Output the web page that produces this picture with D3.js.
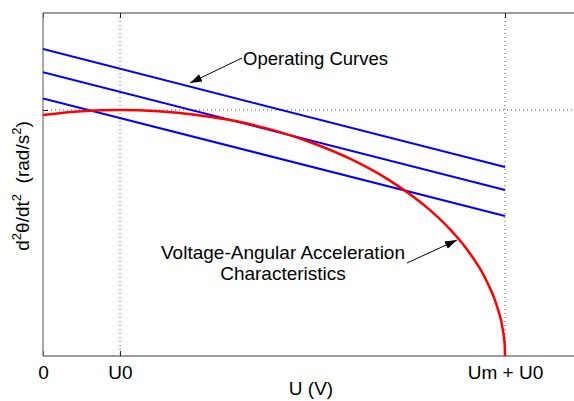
<!DOCTYPE html>
<html>
<head>
<meta charset="utf-8">
<script src="https://cdn.jsdelivr.net/npm/d3@7"></script>
<style>
  body { margin: 0; background: #fff; }
  svg { display: block; font-family: "Liberation Sans", Arial, sans-serif; }
</style>
</head>
<body>
<div id="chart"></div>
<script>
// x in units of U0 (U0 = 1, Um = 5), y relative to the peak acceleration
var xTickVals = [0, 1, 6];
var xTickLabels = ["0", "U0", "Um + U0"];
var yTickVals = [1];

// voltage / angular acceleration characteristic (red)
var charU = [0, 0.5, 1, 1.5, 2, 2.5, 3, 3.5, 4, 4.5, 5, 5.25, 5.5, 5.75, 5.9, 5.97, 5.995, 6];
var charA = [0.98, 0.995, 1.0, 0.995, 0.98, 0.955, 0.917, 0.866, 0.8, 0.714, 0.6, 0.527, 0.436, 0.312, 0.199, 0.11, 0.05, 0];

// operating curves (blue), start and end values
var opU = [0, 6];
var opStart = [1.248, 1.154, 1.047];
var opEnd = [0.768, 0.675, 0.569];

var W = 574, H = 401;
var mLeft = 43, mTop = 13, mBottom = 356;

var svg = d3.select("#chart").append("svg")
	.attr("width", W)
	.attr("height", H);

var x = d3.scaleLinear().domain([0, 7]).range([mLeft, mLeft + 7 * 77]);
var y = d3.scaleLinear().domain([0, 1.4]).range([mBottom, mBottom - 1.4 * 246]);

var defs = svg.append("defs");
defs.append("clipPath").attr("id", "clip")
	.append("rect")
	.attr("x", mLeft).attr("y", mTop)
	.attr("width", W - mLeft).attr("height", mBottom - mTop);
defs.append("marker")
	.attr("id", "head")
	.attr("viewBox", "0 0 12 8")
	.attr("refX", 12).attr("refY", 4)
	.attr("markerWidth", 12).attr("markerHeight", 8)
	.attr("markerUnits", "userSpaceOnUse")
	.attr("orient", "auto")
	.append("path")
	.attr("d", "M0,0 L12,4 L0,8 Z")
	.attr("fill", "#000");

// dotted grid
svg.selectAll(".vgrid")
	.data(xTickVals.slice(1))
	.enter().append("line")
	.attr("class", "vgrid")
	.attr("x1", d => x(d)).attr("x2", d => x(d))
	.attr("y1", mTop).attr("y2", mBottom)
	.attr("stroke", "#555")
	.attr("stroke-width", 1)
	.attr("stroke-dasharray", "1,3");
svg.selectAll(".hgrid")
	.data(yTickVals)
	.enter().append("line")
	.attr("class", "hgrid")
	.attr("x1", mLeft).attr("x2", W)
	.attr("y1", d => y(d)).attr("y2", d => y(d))
	.attr("stroke", "#555")
	.attr("stroke-width", 1)
	.attr("stroke-dasharray", "1,3");

// axes box
var xAxis = d3.axisBottom(x).tickValues(xTickVals).tickSize(-5).tickFormat((d, i) => xTickLabels[i]);
var gx = svg.append("g").attr("transform", "translate(0," + mBottom + ")").call(xAxis);
gx.selectAll("text").attr("dy", "1.05em").attr("font-size", 19).attr("fill", "#000")
	.attr("font-family", "Liberation Sans, Arial, sans-serif");
var gxTop = svg.append("g").attr("transform", "translate(0," + mTop + ")")
	.call(d3.axisTop(x).tickValues(xTickVals).tickSize(-5).tickFormat(""));
var gy = svg.append("g").attr("transform", "translate(" + mLeft + ",0)")
	.call(d3.axisLeft(y).tickValues(yTickVals).tickSize(-5).tickFormat(""));
[gx, gxTop, gy].forEach(g => {
	g.select(".domain").attr("stroke", "#7a7a7a").attr("stroke-width", 1.3);
	g.selectAll(".tick line").attr("stroke", "#222");
});
gx.select(".domain").attr("d", "M" + mLeft + ",0H" + W);
gxTop.select(".domain").attr("d", "M" + mLeft + ",0H" + W);
gy.select(".domain").attr("d", "M0," + mTop + "V" + mBottom);

var plot = svg.append("g").attr("clip-path", "url(#clip)");

// operating curves
var opLine = d3.line().x(d => x(d[0])).y(d => y(d[1]));
opStart.forEach((s, i) => {
	plot.append("path")
		.attr("d", opLine([[opU[0], s], [opU[1], opEnd[i]]]))
		.attr("fill", "none")
		.attr("stroke", "#0000ff")
		.attr("stroke-width", 2);
});

// characteristic
var charLine = d3.line().x((d, i) => x(charU[i])).y((d, i) => y(charA[i])).curve(d3.curveMonotoneX);
plot.append("path")
	.attr("d", charLine(charU))
	.attr("fill", "none")
	.attr("stroke", "#ff0000")
	.attr("stroke-width", 2.5);

// annotations
svg.append("line")
	.attr("x1", 242).attr("y1", 58).attr("x2", 190).attr("y2", 83)
	.attr("stroke", "#000").attr("stroke-width", 1)
	.attr("marker-end", "url(#head)");
svg.append("text")
	.attr("x", 243).attr("y", 65)
	.attr("font-size", 18.5)
	.text("Operating Curves");

svg.append("line")
	.attr("x1", 407).attr("y1", 263).attr("x2", 457).attr("y2", 240)
	.attr("stroke", "#000").attr("stroke-width", 1)
	.attr("marker-end", "url(#head)");
var note = svg.append("text")
	.attr("text-anchor", "middle")
	.attr("font-size", 19);
note.append("tspan").attr("x", 283).attr("y", 259).text("Voltage-Angular Acceleration");
note.append("tspan").attr("x", 283).attr("y", 280).text("Characteristics");

// axis labels
svg.append("text")
	.attr("x", 311).attr("y", 395)
	.attr("text-anchor", "middle")
	.attr("font-size", 19)
	.text("U  (V)");

var yl = svg.append("text")
	.attr("transform", "translate(29,186) rotate(-90)")
	.attr("text-anchor", "middle")
	.attr("font-size", 19)
	.attr("xml:space", "preserve");
yl.append("tspan").text("d");
yl.append("tspan").attr("dy", -8).attr("font-size", 13).text("2");
yl.append("tspan").attr("dy", 8).text("θ/dt");
yl.append("tspan").attr("dy", -8).attr("font-size", 13).text("2");
yl.append("tspan").attr("dy", 8).text("  (rad/s");
yl.append("tspan").attr("dy", -8).attr("font-size", 13).text("2");
yl.append("tspan").attr("dy", 8).text(")");
</script>
</body>
</html>
